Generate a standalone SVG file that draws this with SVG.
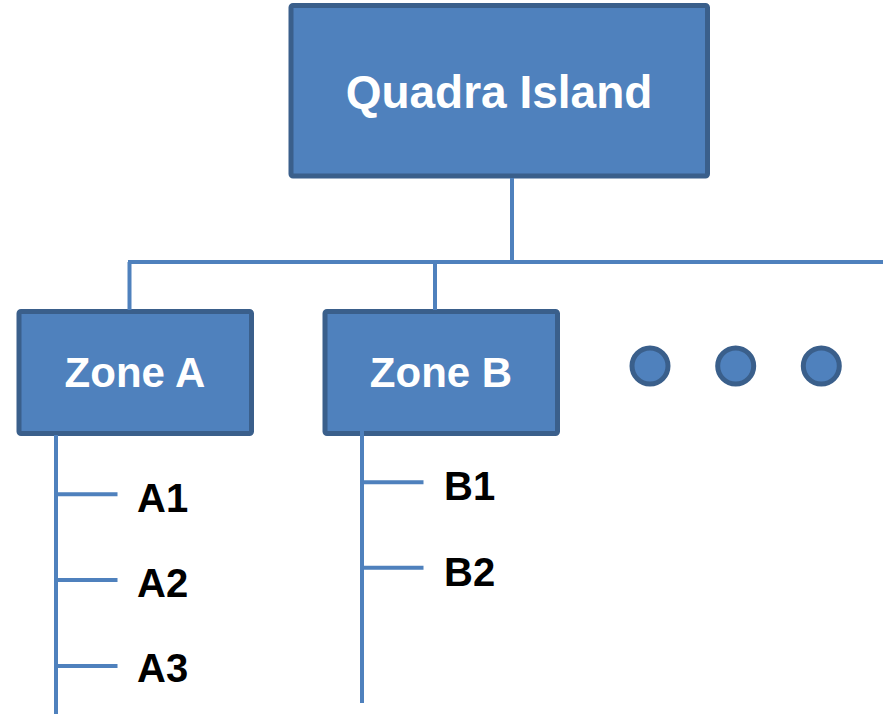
<svg xmlns="http://www.w3.org/2000/svg" width="889" height="714" viewBox="0 0 889 714">
<style>
.box{fill:#4F81BD;stroke:#3A5F8B;stroke-width:5}
.dot{fill:#4F81BD;stroke:#3A5F8B;stroke-width:5}
.wt{fill:#FFFFFF;font-family:"Liberation Sans",Arial,sans-serif;font-weight:bold;text-anchor:middle}
.bt{fill:#000000;font-family:"Liberation Sans",Arial,sans-serif;font-weight:bold;font-size:40px}
.ln{stroke:#4F81BD;stroke-width:4;fill:none}
</style>
<rect width="889" height="714" fill="#FFFFFF"/>
<g id="quadra">
<rect class="box" x="291" y="5.5" width="416.5" height="170.5" rx="2"/>
<text class="wt" x="499" y="108" font-size="46">Quadra Island</text>
</g>
<g id="zoneA">
<rect class="box" x="19" y="311.5" width="232.5" height="122" rx="2"/>
<text class="wt" x="135" y="387" font-size="42">Zone A</text>
</g>
<g id="zoneB">
<rect class="box" x="325" y="311.5" width="232.5" height="122" rx="2"/>
<text class="wt" x="441" y="387" font-size="42">Zone B</text>
</g>
<g id="more">
<circle class="dot" cx="650" cy="366" r="18"/>
<circle class="dot" cx="735.7" cy="366" r="18"/>
<circle class="dot" cx="821.3" cy="366" r="18"/>
</g>
<g id="connectors">
<path class="ln" d="M512 178 V262"/>
<path class="ln" d="M128 262 H883"/>
<path class="ln" d="M129.5 262 V310"/>
<path class="ln" d="M435 262 V310"/>
<path class="ln" d="M56 435 V714"/>
<path class="ln" d="M56 494.3 H117.5 M56 580 H117.5 M56 666 H117.5"/>
<path class="ln" d="M362 422 V703"/>
<path class="ln" d="M362 482.3 H423.5 M362 567.7 H423.5"/>
</g>
<g id="itemA1"><text class="bt" x="137" y="512.3">A1</text></g>
<g id="itemA2"><text class="bt" x="137" y="597.3">A2</text></g>
<g id="itemA3"><text class="bt" x="137" y="682">A3</text></g>
<g id="itemB1"><text class="bt" x="444" y="500">B1</text></g>
<g id="itemB2"><text class="bt" x="444" y="585.7">B2</text></g>
</svg>
